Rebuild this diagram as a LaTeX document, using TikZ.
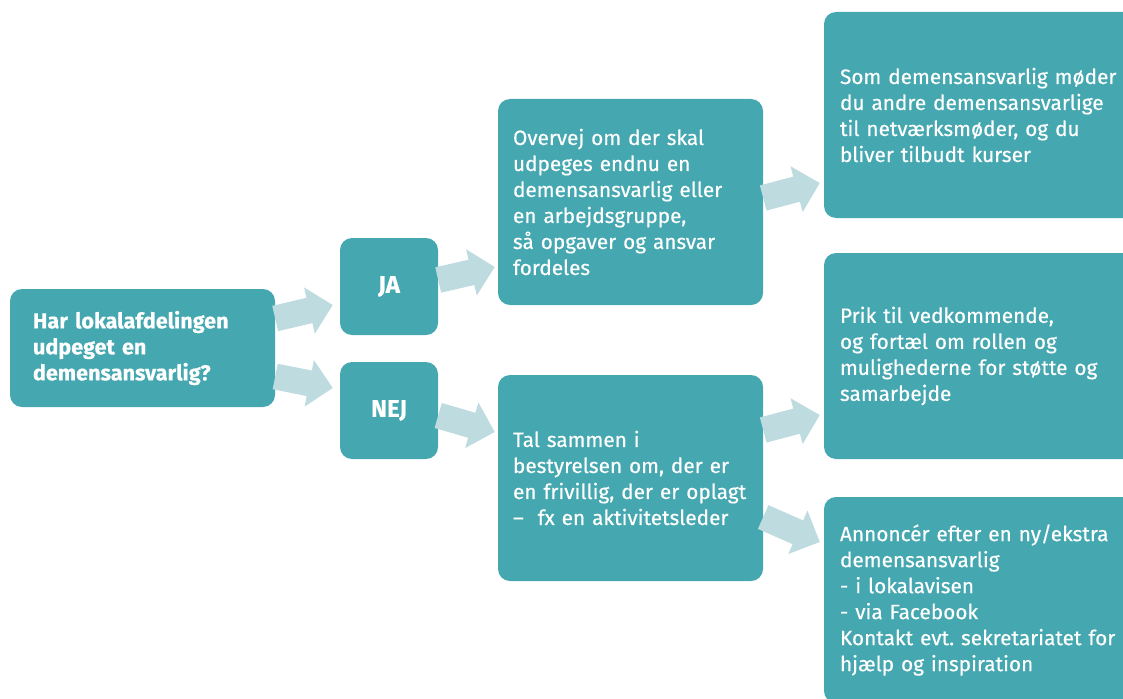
\documentclass[tikz,border=0pt]{standalone}
\usepackage{fontspec}
\setmainfont{Fira Sans}[FakeBold=0.4]
\usetikzlibrary{arrows.meta,calc}
\definecolor{boxc}{RGB}{69,168,176}
\definecolor{arrc}{RGB}{190,220,224}
\frenchspacing
\begin{document}
\begin{tikzpicture}[x=1pt,y=-1pt,
  box/.style={rounded corners=12pt, fill=boxc, text=white, align=left,
    font=\fontsize{20.8}{26}\selectfont, inner ysep=0pt},
  boldbox/.style={box, font=\fontsize{21.6}{26}\selectfont\bfseries},
  answerbox/.style={box, font=\fontsize{24}{26}\selectfont\bfseries, align=center,
    minimum width=98pt, minimum height=97pt, inner xsep=0pt},
  bigarrow/.style={draw=arrc, line width=26pt,
    -{Triangle[length=24pt,width=46pt]}}]
\useasboundingbox (0,0) rectangle (1123,698);
\clip (0,0) rectangle (1123,698);
% nodes
\node[boldbox, minimum height=118pt, inner xsep=23pt, text width=219pt] (q) at (142.5,348)
  {Har lokalafdelingen\\udpeget en\\demensansvarlig?};
\node[answerbox] (ja) at (389,286.5) {JA};
\node[answerbox] (nej) at (389,410.5) {NEJ};
\node[box, minimum height=206pt, inner xsep=15pt, text width=235pt] (ov) at (630.5,202)
  {Overvej om der skal\\udpeges endnu en\\demensansvarlig eller\\en arbejdsgruppe,\\så opgaver og ansvar\\fordeles};
\node[box, minimum height=206pt, inner xsep=15pt, text width=235pt] (tal) at (630.5,478)
  {Tal sammen i\\bestyrelsen om, der er\\en frivillig, der er oplagt\\–\ \ fx en aktivitetsleder};
\node[box, minimum height=206pt, inner xsep=16pt, text width=298pt] (som) at (989,115)
  {Som demensansvarlig møder\\du andre demensansvarlige\\til netværksmøder, og du\\bliver tilbudt kurser};
\node[box, minimum height=206pt, inner xsep=16pt, text width=298pt] (prik) at (989,356)
  {Prik til vedkommende,\\og fortæl om rollen og\\mulighederne for støtte og\\samarbejde};
\node[box, minimum height=206pt, inner xsep=16pt, text width=298pt] (ann) at (989,600)
  {Annoncér efter en ny/ekstra\\demensansvarlig\\- i lokalavisen\\- via Facebook\\Kontakt evt. sekretariatet for\\hjælp og inspiration};
% arrows
\draw[bigarrow] ($(q.east)+(0,-29.5)$) -- ($(ja.west)+(-7,18.5)$);
\draw[bigarrow] ($(q.east)+(0,28.5)$) -- ($(nej.west)+(-7,-22.5)$);
\draw[bigarrow] ($(ja.east)+(0,-6.5)$) -- ($(ov.west)+(-3,65)$);
\draw[bigarrow] ($(nej.east)+(0,5)$) -- ($(tal.west)+(-3,-46)$);
\draw[bigarrow] ($(ov.east)+(0,-4)$) -- ($(som.west)+(-4,68)$);
\draw[bigarrow] ($(tal.east)+(0,-48)$) -- ($(prik.west)+(-4,59)$);
\draw[bigarrow] ($(tal.east)+(0,39)$) -- ($(ann.west)+(-4,-58)$);
\end{tikzpicture}
\end{document}
